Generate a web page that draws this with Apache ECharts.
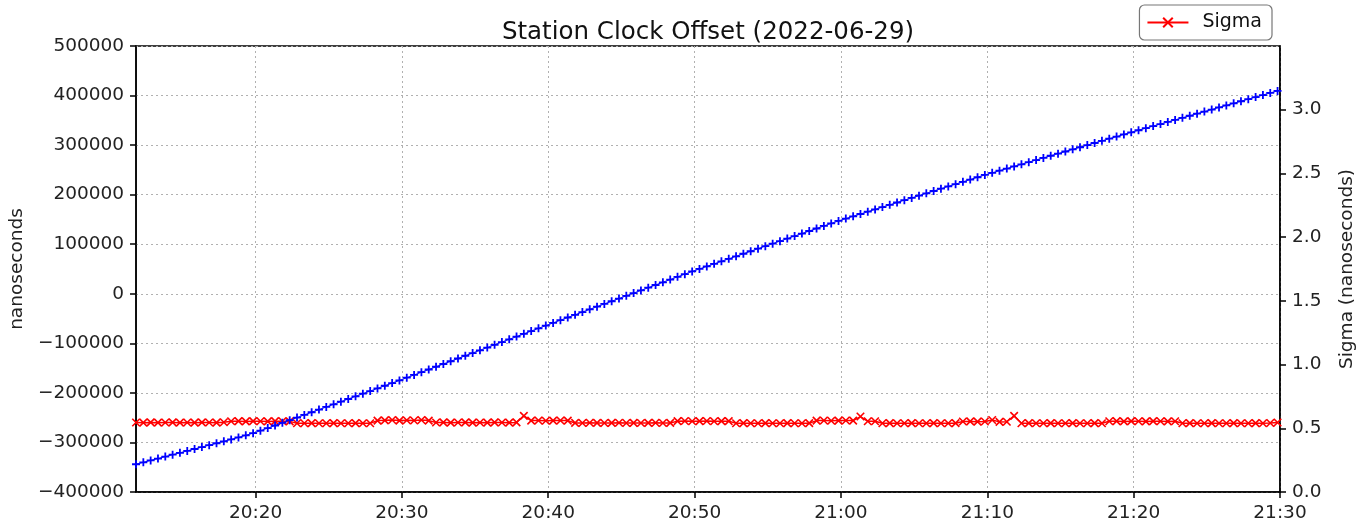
<!DOCTYPE html>
<html>
<head>
<meta charset="utf-8">
<script src="https://cdn.jsdelivr.net/npm/echarts@6/dist/echarts.min.js"></script>
<style>html,body{margin:0;padding:0;background:#fff}#c{width:1365px;height:529px}</style>
</head>
<body>
<div id="c"></div>
<script>
// Sample times: every 30 s starting 2022-06-29 20:11:50
const startTime = '2022-06-29 20:11:50';
const stepSeconds = 30;
const xMin = '2022-06-29 20:11:50';
const xMax = '2022-06-29 21:30:00';
const xTickLabels = ['20:20', '20:30', '20:40', '20:50', '21:00', '21:10', '21:20', '21:30'];

// Station clock offset (nanoseconds), left axis
const offsetNs = [
-344000,-340150,-336300,-332450,-328600,-324750,-320900,-317050,-313200,-309350,
-305500,-301650,-297800,-293900,-289900,-285700,-281200,-276300,-271100,-265800,
-260500,-255150,-249800,-244450,-239100,-233750,-228400,-223050,-217700,-212350,
-207000,-201650,-196300,-190950,-185600,-180250,-174900,-169400,-163850,-158300,
-152800,-147250,-141700,-136200,-130650,-125100,-119600,-114050,-108500,-103000,
-97450,-91900,-86400,-80850,-75300,-69800,-64250,-58800,-53300,-47850,
-42400,-36900,-31450,-26000,-20500,-15050,-9600,-4100,1350,6800,
12300,17750,23200,28700,34150,39600,45050,50150,55250,60350,
65450,70550,75650,80750,85850,90950,96050,101150,106250,111350,
116450,121550,126650,131750,136850,141950,147050,151700,156350,160950,
165600,170250,174900,179500,184150,188800,193450,198050,202700,207350,
212000,216600,221250,225900,230550,235150,239800,244100,248400,252700,
257000,261300,265600,269900,274200,278500,282800,287100,291400,295700,
300000,304300,308600,312900,317200,321500,325800,330000,334200,338350,
342550,346700,350900,355100,359250,363450,367600,371800,376000,380150,
384350,388500,392700,396900,401050,405250,409400
];

// Sigma (nanoseconds), right axis
const sigmaNs = [
0.545,0.544,0.546,0.544,0.545,0.546,0.544,0.545,0.544,0.546,
0.545,0.544,0.547,0.555,0.556,0.554,0.556,0.555,0.554,0.556,
0.555,0.554,0.539,0.539,0.540,0.539,0.539,0.540,0.539,0.539,
0.540,0.539,0.539,0.560,0.562,0.565,0.560,0.563,0.561,0.565,
0.560,0.545,0.546,0.544,0.545,0.546,0.544,0.545,0.544,0.546,
0.545,0.544,0.546,0.597,0.560,0.561,0.559,0.560,0.561,0.560,
0.542,0.541,0.543,0.542,0.541,0.542,0.543,0.541,0.542,0.541,
0.542,0.543,0.541,0.542,0.556,0.557,0.555,0.556,0.557,0.555,
0.556,0.556,0.539,0.540,0.539,0.539,0.540,0.539,0.539,0.540,
0.539,0.539,0.540,0.560,0.561,0.559,0.560,0.561,0.560,0.592,
0.555,0.555,0.539,0.540,0.539,0.539,0.540,0.539,0.539,0.540,
0.539,0.539,0.540,0.553,0.554,0.552,0.553,0.565,0.550,0.551,
0.597,0.539,0.540,0.539,0.539,0.540,0.539,0.539,0.540,0.539,
0.539,0.540,0.539,0.555,0.556,0.554,0.556,0.555,0.554,0.556,
0.555,0.554,0.555,0.539,0.540,0.539,0.539,0.540,0.539,0.539,
0.540,0.539,0.539,0.540,0.539,0.541,0.545
];

const leftTicks = { min: -400000, max: 500000, interval: 100000 };
const rightTicks = { min: 0, max: 3.499, interval: 0.5 };

const t0 = echarts.time.parse(startTime).getTime();
const times = offsetNs.map((_, i) => t0 + i * stepSeconds * 1000);
const xTickValues = xTickLabels.map(s => echarts.time.parse('2022-06-29 ' + s + ':00').getTime());

const FONT = 'DejaVu Sans';
const chart = echarts.init(document.getElementById('c'), null, { renderer: 'canvas' });

const plusPath = 'path://M0,5L10,5M5,0L5,10';
const crossPath = 'path://M0,0L10,10M10,0L0,10';
const gridLine = { show: true, lineStyle: { color: '#b0b0b0', width: 1, type: [2, 3] } };

chart.setOption({
  animation: false,
  backgroundColor: '#fff',
  textStyle: { fontFamily: FONT },
  title: {
    text: 'Station Clock Offset (2022-06-29)',
    left: 703, top: 15, textAlign: 'center',
    textStyle: { fontFamily: FONT, fontSize: 24.5, fontWeight: 'normal', color: '#111' }
  },
  legend: {
    data: ['Sigma'],
    right: 93, top: 5,
    padding: [8, 10, 8, 7],
    itemWidth: 41, itemHeight: 12,
    borderColor: '#777', borderWidth: 1.2, borderRadius: 5,
    textStyle: { fontFamily: FONT, fontSize: 19, color: '#111', padding: [0, 0, 0, 9] }
  },
  grid: { left: 133, right: 84, top: 46, bottom: 37, show: true, borderColor: '#000', borderWidth: 1.5, backgroundColor: 'transparent' },
  xAxis: {
    type: 'time',
    min: xMin, max: xMax,
    axisLine: { show: true, onZero: false, lineStyle: { color: '#000', width: 1.5 } },
    axisTick: { show: true, length: 6, customValues: xTickValues, lineStyle: { color: '#000', width: 1.5 } },
    axisLabel: { customValues: xTickValues, formatter: '{HH}:{mm}', fontFamily: FONT, fontSize: 18.5, color: '#222', margin: 12, hideOverlap: false },
    splitLine: gridLine
  },
  yAxis: [
    {
      type: 'value', position: 'left',
      min: leftTicks.min, max: leftTicks.max, interval: leftTicks.interval,
      name: 'nanoseconds', nameLocation: 'middle', nameGap: 104, nameRotate: 90,
      nameTextStyle: { fontFamily: FONT, fontSize: 18.5, color: '#222' },
      axisLine: { show: true, onZero: false, lineStyle: { color: '#000', width: 1.5 } },
      axisTick: { show: true, length: 6, lineStyle: { color: '#000', width: 1.5 } },
      axisLabel: { fontFamily: FONT, fontSize: 18.5, color: '#222', margin: 12,
        formatter: v => v < 0 ? '\u2212' + Math.abs(v) : String(v) },
      splitLine: gridLine
    },
    {
      type: 'value', position: 'right',
      min: rightTicks.min, max: rightTicks.max, interval: rightTicks.interval,
      name: 'Sigma (nanoseconds)', nameLocation: 'middle', nameGap: 58, nameRotate: 90,
      nameTextStyle: { fontFamily: FONT, fontSize: 18.5, color: '#222' },
      axisLine: { show: true, onZero: false, lineStyle: { color: '#000', width: 1.5 } },
      axisTick: { show: true, length: 6, lineStyle: { color: '#000', width: 1.5 } },
      axisLabel: { fontFamily: FONT, fontSize: 18.5, color: '#222', margin: 12, showMaxLabel: false,
        formatter: v => v.toFixed(1) },
      splitLine: { show: false }
    }
  ],
  series: [
    {
      name: 'Offset', type: 'line', yAxisIndex: 0,
      data: times.map((t, i) => [t, offsetNs[i]]),
      symbol: plusPath, symbolSize: 8, showAllSymbol: true,
      lineStyle: { color: '#0000ff', width: 1 },
      itemStyle: { color: '#0000ff', borderColor: '#0000ff', borderWidth: 1.8 },
      emphasis: { disabled: true }, z: 3
    },
    {
      name: 'Sigma', type: 'line', yAxisIndex: 1,
      data: times.map((t, i) => [t, sigmaNs[i]]),
      symbol: crossPath, symbolSize: 7.5, showAllSymbol: true,
      lineStyle: { color: '#ff0000', width: 1.5 },
      itemStyle: { color: '#ff0000', borderColor: '#ff0000', borderWidth: 1.6 },
      emphasis: { disabled: true }, z: 2
    }
  ]
});
</script>
</body>
</html>
